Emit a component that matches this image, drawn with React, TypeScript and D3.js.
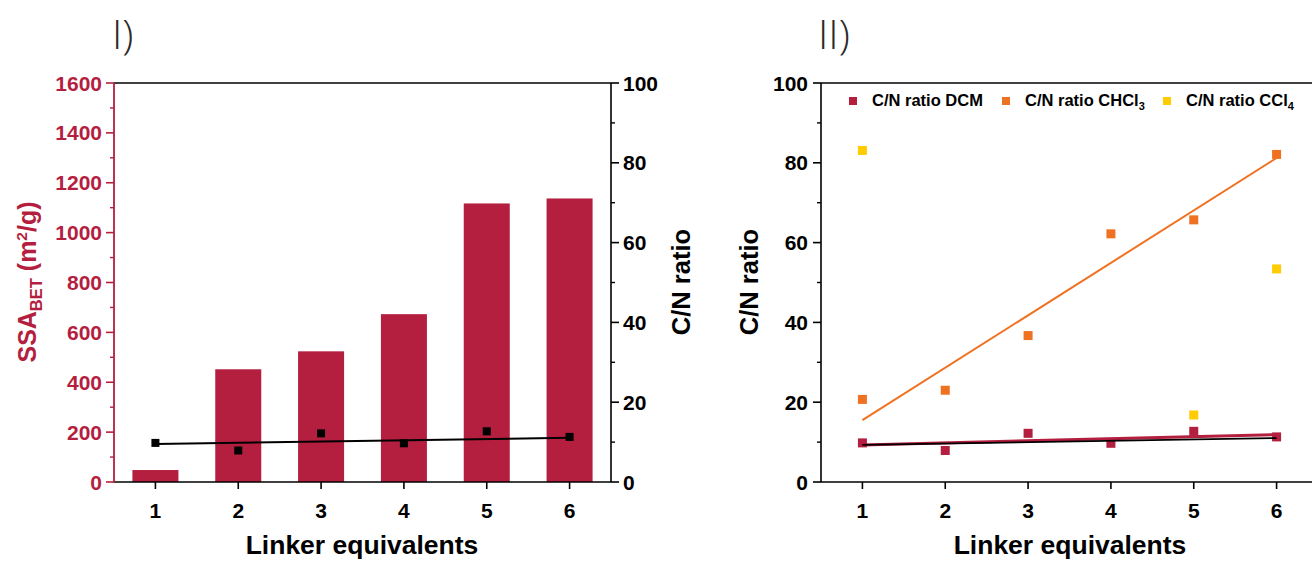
import React from "react";
import * as d3 from "d3";

const categories = [1, 2, 3, 4, 5, 6];
const ssaBET = [48, 452, 524, 673, 1117, 1137];
const cnDCM = [9.8, 7.9, 12.2, 9.7, 12.7, 11.3];
const cnCHCl3 = [20.7, 23.0, 36.7, 62.2, 65.7, 82.1];
const cclX = [1, 5, 6];
const cnCCl4 = [83.1, 16.8, 53.4];
const trendX = [1, 6];
const trendLeft = [9.5, 11.1];
const trendDCM = [9.3, 11.9];
const trendBlack = [9.3, 11.0];
const trendCHCl3 = [15.5, 81.2];
const ssaTicks = [0, 200, 400, 600, 800, 1000, 1200, 1400, 1600];
const ssaMinor = [100, 300, 500, 700, 900, 1100, 1300, 1500];
const cnTicks = [0, 20, 40, 60, 80, 100];
const cnMinor = [10, 30, 50, 70, 90];

const CRIMSON = "#B41E3F";
const ORANGE = "#EF7223";
const YELLOW = "#FFCC00";
const FONT = "'Liberation Sans', Arial, sans-serif";

const TOP = 83;
const BOTTOM = 482;

export default function App() {
  const xL = d3.scaleLinear().domain([0.5, 6.5]).range([114, 611]);
  const ySSA = d3.scaleLinear().domain([0, 1600]).range([BOTTOM, TOP]);
  const yCN = d3.scaleLinear().domain([0, 100]).range([BOTTOM, TOP]);
  const xR = d3.scaleLinear().domain([0.5, 6.5]).range([821, 1318]);
  const line = d3.line<[number, number]>();
  const barW = 46;
  const sq = 8;

  const mk = (xs: number[], ys: number[], xs2: (v: number) => number) =>
    line(xs.map((x, i) => [xs2(x), yCN(ys[i])]) as [number, number][]) || "";

  return (
    <svg width={1312} height={561} style={{ position: "absolute", left: 0, top: 0, background: "#fff" }} fontFamily={FONT}>
      {/* Titles */}
      <text x={112} y={49} fontSize={41} fontWeight={300} fontFamily="'Open Sans', Lato, sans-serif" fill="#2a2a2a">I)</text>
      <text x={818} y={49} fontSize={41} fontWeight={300} fontFamily="'Open Sans', Lato, sans-serif" fill="#2a2a2a">II)</text>

      {/* ---------- Left panel ---------- */}
      {categories.map((c, i) => (
        <rect key={"b" + c} x={xL(c) - barW / 2} y={ySSA(ssaBET[i])} width={barW} height={BOTTOM - ySSA(ssaBET[i])} fill={CRIMSON} />
      ))}
      <path d={mk(trendX, trendLeft, xL)} stroke="#000" strokeWidth={2} fill="none" />
      {categories.map((c, i) => (
        <rect key={"p" + c} x={xL(c) - sq / 2} y={yCN(cnDCM[i]) - sq / 2} width={sq} height={sq} fill="#000" />
      ))}
      {/* frame */}
      <line x1={114} x2={611} y1={TOP} y2={TOP} stroke="#000" strokeWidth={1.6} />
      <line x1={114} x2={611} y1={BOTTOM} y2={BOTTOM} stroke="#000" strokeWidth={1.6} />
      <line x1={611} x2={611} y1={TOP} y2={BOTTOM} stroke="#000" strokeWidth={1.6} />
      <line x1={114} x2={114} y1={TOP} y2={BOTTOM + 0.8} stroke={CRIMSON} strokeWidth={1.8} />
      {ssaTicks.map((t) => (
        <g key={"st" + t}>
          <line x1={106} x2={114} y1={ySSA(t)} y2={ySSA(t)} stroke={CRIMSON} strokeWidth={1.6} />
          <text x={102} y={ySSA(t) + 7.5} textAnchor="end" fontSize={21} fontWeight="bold" fill={CRIMSON}>{t}</text>
        </g>
      ))}
      {ssaMinor.map((t) => (
        <line key={"sm" + t} x1={110} x2={114} y1={ySSA(t)} y2={ySSA(t)} stroke={CRIMSON} strokeWidth={1.4} />
      ))}
      {cnTicks.map((t) => (
        <g key={"ct" + t}>
          <line x1={611} x2={619} y1={yCN(t)} y2={yCN(t)} stroke="#000" strokeWidth={1.6} />
          <text x={623} y={yCN(t) + 7.5} textAnchor="start" fontSize={21} fontWeight="bold" fill="#000">{t}</text>
        </g>
      ))}
      {cnMinor.map((t) => (
        <line key={"cm" + t} x1={611} x2={615} y1={yCN(t)} y2={yCN(t)} stroke="#000" strokeWidth={1.4} />
      ))}
      {categories.map((c) => (
        <g key={"xt" + c}>
          <line x1={xL(c)} x2={xL(c)} y1={BOTTOM} y2={BOTTOM + 7} stroke="#000" strokeWidth={1.6} />
          <text x={xL(c)} y={518} textAnchor="middle" fontSize={21} fontWeight="bold">{c}</text>
        </g>
      ))}
      <text x={362} y={554} textAnchor="middle" fontSize={26.5} fontWeight="bold">Linker equivalents</text>
      <text transform="translate(36,282) rotate(-90)" textAnchor="middle" fontSize={25} fontWeight="bold" fill={CRIMSON}>
        SSA<tspan fontSize={16.5} dy={6}>BET</tspan><tspan dy={-6}> (m</tspan><tspan fontSize={15.5} dy={-9}>2</tspan><tspan dy={9}>/g)</tspan>
      </text>
      <text transform="translate(690,282) rotate(-90)" textAnchor="middle" fontSize={25.5} fontWeight="bold">C/N ratio</text>

      {/* ---------- Right panel ---------- */}
      {categories.map((c, i) => (
        <rect key={"d" + c} x={xR(c) - sq / 2 - 0.5} y={yCN(cnDCM[i]) - sq / 2 - 0.5} width={sq + 1} height={sq + 1} fill={CRIMSON} />
      ))}
      {categories.map((c, i) => (
        <rect key={"o" + c} x={xR(c) - sq / 2 - 0.5} y={yCN(cnCHCl3[i]) - sq / 2 - 0.5} width={sq + 1} height={sq + 1} fill={ORANGE} />
      ))}
      {cclX.map((c, i) => (
        <rect key={"y" + c} x={xR(c) - sq / 2 - 0.5} y={yCN(cnCCl4[i]) - sq / 2 - 0.5} width={sq + 1} height={sq + 1} fill={YELLOW} />
      ))}
      <path d={mk(trendX, trendCHCl3, xR)} stroke={ORANGE} strokeWidth={2} fill="none" />
      <path d={mk(trendX, trendDCM, xR)} stroke={CRIMSON} strokeWidth={3} fill="none" />
      <path d={mk(trendX, trendBlack, xR)} stroke="#000" strokeWidth={1.8} fill="none" />

      <line x1={821} x2={1312} y1={TOP} y2={TOP} stroke="#000" strokeWidth={1.6} />
      <line x1={821} x2={1312} y1={BOTTOM} y2={BOTTOM} stroke="#000" strokeWidth={1.6} />
      <line x1={821} x2={821} y1={TOP} y2={BOTTOM} stroke="#000" strokeWidth={1.6} />
      {cnTicks.map((t) => (
        <g key={"rt" + t}>
          <line x1={813} x2={821} y1={yCN(t)} y2={yCN(t)} stroke="#000" strokeWidth={1.6} />
          <text x={808} y={yCN(t) + 7.5} textAnchor="end" fontSize={21} fontWeight="bold">{t}</text>
        </g>
      ))}
      {cnMinor.map((t) => (
        <line key={"rm" + t} x1={817} x2={821} y1={yCN(t)} y2={yCN(t)} stroke="#000" strokeWidth={1.4} />
      ))}
      {categories.map((c) => (
        <g key={"rx" + c}>
          <line x1={xR(c)} x2={xR(c)} y1={BOTTOM} y2={BOTTOM + 7} stroke="#000" strokeWidth={1.6} />
          <text x={xR(c)} y={518} textAnchor="middle" fontSize={21} fontWeight="bold">{c}</text>
        </g>
      ))}
      <text x={1070} y={554} textAnchor="middle" fontSize={26.5} fontWeight="bold">Linker equivalents</text>
      <text transform="translate(758,282) rotate(-90)" textAnchor="middle" fontSize={25.5} fontWeight="bold">C/N ratio</text>

      {/* Legend */}
      <rect x={849} y={97} width={8} height={8} fill={CRIMSON} />
      <text x={872} y={106} fontSize={16.5} fontWeight="bold">C/N ratio DCM</text>
      <rect x={1002} y={97} width={8} height={8} fill={ORANGE} />
      <text x={1025} y={106} fontSize={16.5} fontWeight="bold">C/N ratio CHCl<tspan fontSize={11} dy={4}>3</tspan></text>
      <rect x={1163} y={97} width={8} height={8} fill={YELLOW} />
      <text x={1186} y={106} fontSize={16.5} fontWeight="bold">C/N ratio CCl<tspan fontSize={11} dy={4}>4</tspan></text>
    </svg>
  );
}
